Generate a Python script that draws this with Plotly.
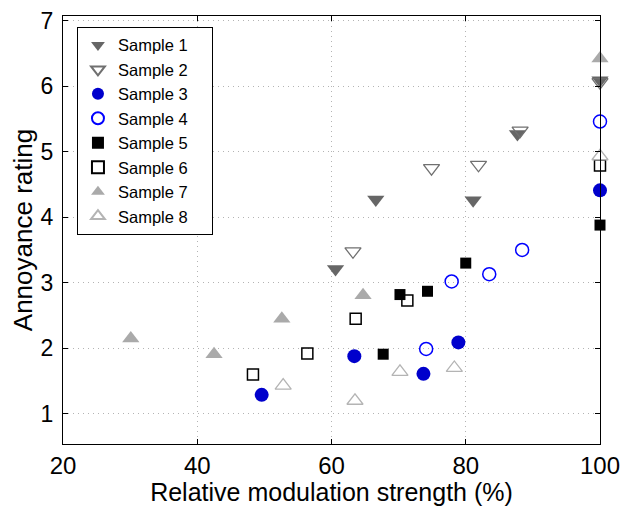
import plotly.graph_objects as go

s1_x = [60.6, 66.6, 81.1, 87.7, 100]
s1_y = [3.21, 4.27, 4.26, 5.27, 6.09]
s2_x = [63.2, 74.9, 81.9, 88.1, 100]
s2_y = [3.48, 4.75, 4.80, 5.32, 6.06]
s3_x = [49.6, 63.4, 73.7, 78.9, 100]
s3_y = [1.29, 1.88, 1.61, 2.09, 4.41]
s4_x = [74.1, 77.9, 83.5, 88.4, 100]
s4_y = [1.99, 3.02, 3.13, 3.50, 5.46]
s5_x = [67.7, 70.2, 74.3, 80.0, 100]
s5_y = [1.91, 2.82, 2.87, 3.30, 3.88]
s6_x = [48.3, 56.4, 63.6, 71.3, 100]
s6_y = [1.60, 1.92, 2.45, 2.73, 4.79]
s7_x = [30.1, 42.5, 52.6, 64.7, 100]
s7_y = [2.15, 1.91, 2.45, 2.81, 6.42]
s8_x = [52.8, 63.5, 70.2, 78.3, 100]
s8_y = [1.43, 1.20, 1.64, 1.70, 4.93]

names = ["Sample 1", "Sample 2", "Sample 3", "Sample 4",
         "Sample 5", "Sample 6", "Sample 7", "Sample 8"]
xs = [s1_x, s2_x, s3_x, s4_x, s5_x, s6_x, s7_x, s8_x]
ys = [s1_y, s2_y, s3_y, s4_y, s5_y, s6_y, s7_y, s8_y]

styles = [
    dict(symbol="triangle-down", color="#666666", size=15, line=dict(width=0)),
    dict(symbol="triangle-down-open", color="#707070", size=14, line=dict(width=1.3)),
    dict(symbol="circle", color="#0000CC", size=14, line=dict(width=0)),
    dict(symbol="circle-open", color="#0000FF", size=13, line=dict(width=1.5)),
    dict(symbol="square", color="#000000", size=11, line=dict(width=0)),
    dict(symbol="square-open", color="#000000", size=11, line=dict(width=1.5)),
    dict(symbol="triangle-up", color="#AAAAAA", size=15, line=dict(width=0)),
    dict(symbol="triangle-up-open", color="#B4B4B4", size=14, line=dict(width=1.3)),
]

fig = go.Figure()
for n, x, y, st in zip(names, xs, ys, styles):
    fig.add_trace(go.Scatter(x=x, y=y, mode="markers",
                             name=n + "\u00a0\u00a0\u00a0\u00a0", marker=st,
                             cliponaxis=False))

font_family = "Liberation Sans, Arial, sans-serif"
axis_common = dict(
    showline=True, linecolor="black", linewidth=1.3, mirror="ticks",
    ticks="inside", ticklen=5, tickcolor="black", tickwidth=1,
    showgrid=True, gridcolor="#b4b4b4", griddash="1px,4px", gridwidth=1,
    zeroline=False, automargin=False, ticklabeloverflow="allow",
)

# the page body adds an 8px offset, so the figure is sized/margined to compensate
fig.update_layout(
    width=626, height=498,
    margin=dict(l=55, r=34, t=8, b=62),
    paper_bgcolor="white", plot_bgcolor="white",
    font=dict(family=font_family, color="black"),
    xaxis=dict(range=[20, 100], tickvals=[20, 40, 60, 80, 100],
               ticklabelstandoff=0,
               tickfont=dict(size=24, color="black", family=font_family),
               title=dict(text="Relative modulation strength (%)",
                          font=dict(size=25), standoff=6),
               **axis_common),
    yaxis=dict(range=[0.54, 7.07], tickvals=[1, 2, 3, 4, 5, 6, 7],
               ticklabelstandoff=4,
               tickfont=dict(size=23, color="black", family=font_family),
               title=dict(text="Annoyance rating", font=dict(size=26), standoff=9),
               **axis_common),
    legend=dict(x=0.026, y=0.975, xanchor="left", yanchor="top",
                bgcolor="white", bordercolor="black", borderwidth=1,
                font=dict(size=16.5, color="black"), tracegroupgap=0,
                itemsizing="constant"),
)

fig.write_html("out.html")
